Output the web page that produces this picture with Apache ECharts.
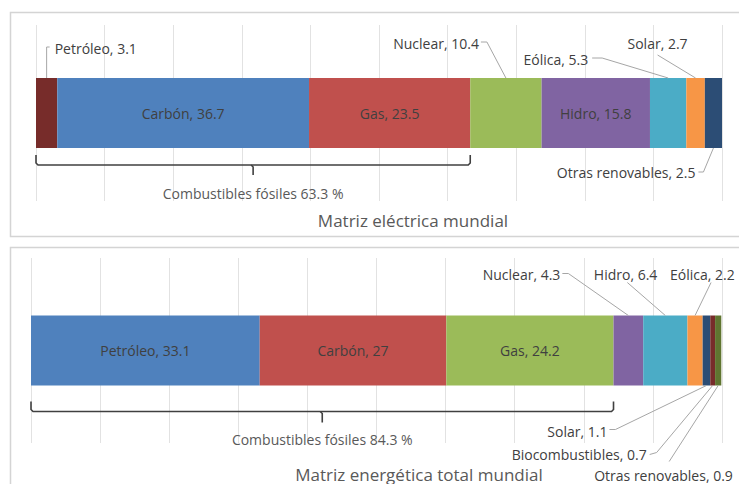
<!DOCTYPE html>
<html><head><meta charset="utf-8">
<script src="https://cdn.jsdelivr.net/npm/echarts@6/dist/echarts.min.js"></script>
<style>html,body{margin:0;padding:0;background:#fff}#c{width:739px;height:484px}</style>
</head><body><div id="c"></div>
<script>
// ---- Data ----
const elecNames = ['Petróleo', 'Carbón', 'Gas', 'Nuclear', 'Hidro', 'Eólica', 'Solar', 'Otras renovables'];
const elecValues = [3.1, 36.7, 23.5, 10.4, 15.8, 5.3, 2.7, 2.5];
const elecColors = ['#772C2A', '#4F81BD', '#C0504D', '#9BBB59', '#8064A2', '#4BACC6', '#F79646', '#2C4D75'];

const totalNames = ['Petróleo', 'Carbón', 'Gas', 'Nuclear', 'Hidro', 'Eólica', 'Solar', 'Biocombustibles', 'Otras renovables'];
const totalValues = [33.1, 27, 24.2, 4.3, 6.4, 2.2, 1.1, 0.7, 0.9];
const totalColors = ['#4F81BD', '#C0504D', '#9BBB59', '#8064A2', '#4BACC6', '#F79646', '#2C4D75', '#772C2A', '#5F7530'];

const fossilCount = 3;
const axisMin = 0, axisMax = 100, axisInterval = 10;
const chartTitles = ['Matriz eléctrica mundial', 'Matriz energética total mundial'];
const bracketPrefix = 'Combustibles fósiles ';

// ---- Layout / style ----
const FONT = 'Open Sans';
const LABEL_SIZE = 14;
const TITLE_SIZE = 17;
const BAR_W = 70;
const layouts = [
  {
    grid: { left: 36, right: 17, top: 25, height: 176 },
    inside: [1, 2, 4],
    outside: {
      0: { side: 'top', tx: 8, ty: -30, align: 'left', line: [[0, 0], [0, -31], [3, -31]] },
      3: { side: 'top', tx: -27, ty: -35, align: 'right', line: [[-25, -36], [-19, -36], [0, 0]] },
      5: { side: 'top', tx: -80, ty: -19, align: 'right', line: [[-76, -20], [-66, -20], [0, 0]] },
      6: { side: 'top', tx: -8, ty: -35, align: 'right', line: [[-38, -23], [0, 0]] },
      7: { side: 'bottom', tx: -18, ty: 24, align: 'right', line: [[-15, 24], [-10, 24], [0, 0]] }
    },
    bracket: { ys: 7, yh: 17, yt: 27, text: 45 },
    frame: { x: 10.5, y: 12.5, w: 740, h: 224 },
    titleY: 220
  },
  {
    grid: { left: 31, right: 17, top: 258, height: 185 },
    inside: [0, 1, 2],
    outside: {
      3: { side: 'top', tx: -68, ty: -41, align: 'right', line: [[-66, -42], [-60, -42], [0, 0]] },
      4: { side: 'top', tx: -8, ty: -41, align: 'right', line: [[-38, -33], [0, 0]] },
      5: { side: 'top', tx: -25, ty: -41, align: 'left', line: [[16, -33], [0, 0]] },
      6: { side: 'bottom', tx: -99, ty: 46, align: 'right', line: [[-97, 44], [-91, 44], [0, 0]] },
      7: { side: 'bottom', tx: -66, ty: 69, align: 'right', line: [[-63, 69], [-56, 67], [0, 0]] },
      8: { side: 'bottom', tx: -124, ty: 90, align: 'left', line: [[-49, 76], [0, 0]] }
    },
    bracket: { ys: 16, yh: 26, yt: 37, text: 54 },
    frame: { x: 10.5, y: 247.5, w: 740, h: 260 },
    titleY: 474
  }
];

const chart = echarts.init(document.getElementById('c'), null, { renderer: 'svg' });

function buildSeries(names, values, colors, gi) {
  const lay = layouts[gi];
  return names.map((n, i) => {
    const o = lay.outside[i];
    const s = {
      type: 'bar', name: n, stack: 'g' + gi, xAxisIndex: gi, yAxisIndex: gi,
      barWidth: BAR_W, data: [values[i]],
      itemStyle: { color: colors[i] },
      label: {
        show: lay.inside.includes(i) || !!o, position: 'inside',
        formatter: '{a}, {c}', color: '#404040', fontFamily: FONT, fontSize: LABEL_SIZE
      },
      emphasis: { disabled: true }
    };
    if (o) {
      s.labelLayout = function (p) {
        const r = p.rect;
        const ax = r.x + r.width / 2;
        const ay = o.side === 'top' ? r.y : r.y + r.height;
        return { x: ax + o.tx, y: ay + o.ty, align: o.align, verticalAlign: 'middle' };
      };
    }
    return s;
  });
}

function axisPair(gi) {
  return {
    x: {
      type: 'value', gridIndex: gi, min: axisMin, max: axisMax, interval: axisInterval,
      axisLabel: { show: false }, axisLine: { show: false }, axisTick: { show: false },
      splitLine: { show: true, lineStyle: { color: '#e2e2e2', width: 1 } }
    },
    y: { type: 'category', gridIndex: gi, data: [''], show: false }
  };
}

const a0 = axisPair(0), a1 = axisPair(1);
chart.setOption({
  animation: false,
  backgroundColor: '#ffffff',
  grid: [layouts[0].grid, layouts[1].grid],
  xAxis: [a0.x, a1.x],
  yAxis: [a0.y, a1.y],
  series: buildSeries(elecNames, elecValues, elecColors, 0)
    .concat(buildSeries(totalNames, totalValues, totalColors, 1))
});

// ---- Annotations (frames, leader lines, brackets, titles) ----
const graphics = [];
[elecValues, totalValues].forEach((values, gi) => {
  const lay = layouts[gi];
  const f = lay.frame;
  graphics.push({ type: 'rect', silent: true, z: -10,
    shape: { x: f.x, y: f.y, width: f.w, height: f.h },
    style: { fill: null, stroke: '#d4d4d4', lineWidth: 1.5 } });

  const cy = chart.convertToPixel({ gridIndex: gi }, [0, 0])[1];
  const top = cy - BAR_W / 2, bot = cy + BAR_W / 2;
  let cum = 0;
  values.forEach((v, i) => {
    const mid = cum + v / 2;
    cum += v;
    const o = lay.outside[i];
    if (!o) return;
    const ax = chart.convertToPixel({ gridIndex: gi }, [mid, 0])[0];
    const ay = o.side === 'top' ? top : bot;
    graphics.push({ type: 'polyline', silent: true, z: 5,
      shape: { points: o.line.map(([dx, dy]) => [ax + dx, ay + dy]) },
      style: { stroke: '#a6a6a6', lineWidth: 1, fill: null } });
  });

  const fossil = values.slice(0, fossilCount).reduce((s, v) => s + v, 0);
  const x0 = chart.convertToPixel({ gridIndex: gi }, [0, 0])[0];
  const x1 = chart.convertToPixel({ gridIndex: gi }, [fossil, 0])[0];
  const xm = (x0 + x1) / 2;
  const b = lay.bracket;
  const ys = bot + b.ys, yh = bot + b.yh, yt = bot + b.yt;
  const r = 2;
  const bs = { stroke: '#404040', lineWidth: 1.6, fill: null };
  graphics.push({ type: 'polyline', silent: true, z: 5,
    shape: { points: [[x0, ys], [x0, yh - r], [x0 + r, yh], [x1 - r, yh], [x1, yh - r], [x1, ys]] },
    style: bs });
  graphics.push({ type: 'polyline', silent: true, z: 5,
    shape: { points: [[xm - r, yh], [xm, yh + r], [xm, yt]] },
    style: bs });
  graphics.push({ type: 'text', silent: true, z: 5, x: xm, y: bot + b.text,
    style: { text: bracketPrefix + fossil.toFixed(1) + ' %', fill: '#595959',
      font: `${LABEL_SIZE}px "${FONT}"`, textAlign: 'center', textVerticalAlign: 'middle' } });

  graphics.push({ type: 'text', silent: true, z: 5, x: 413 + gi * 6, y: lay.titleY,
    style: { text: chartTitles[gi], fill: '#595959',
      font: `${TITLE_SIZE}px "${FONT}"`, textAlign: 'center', textVerticalAlign: 'middle' } });
});
chart.setOption({ graphic: graphics });
</script>
</body></html>
